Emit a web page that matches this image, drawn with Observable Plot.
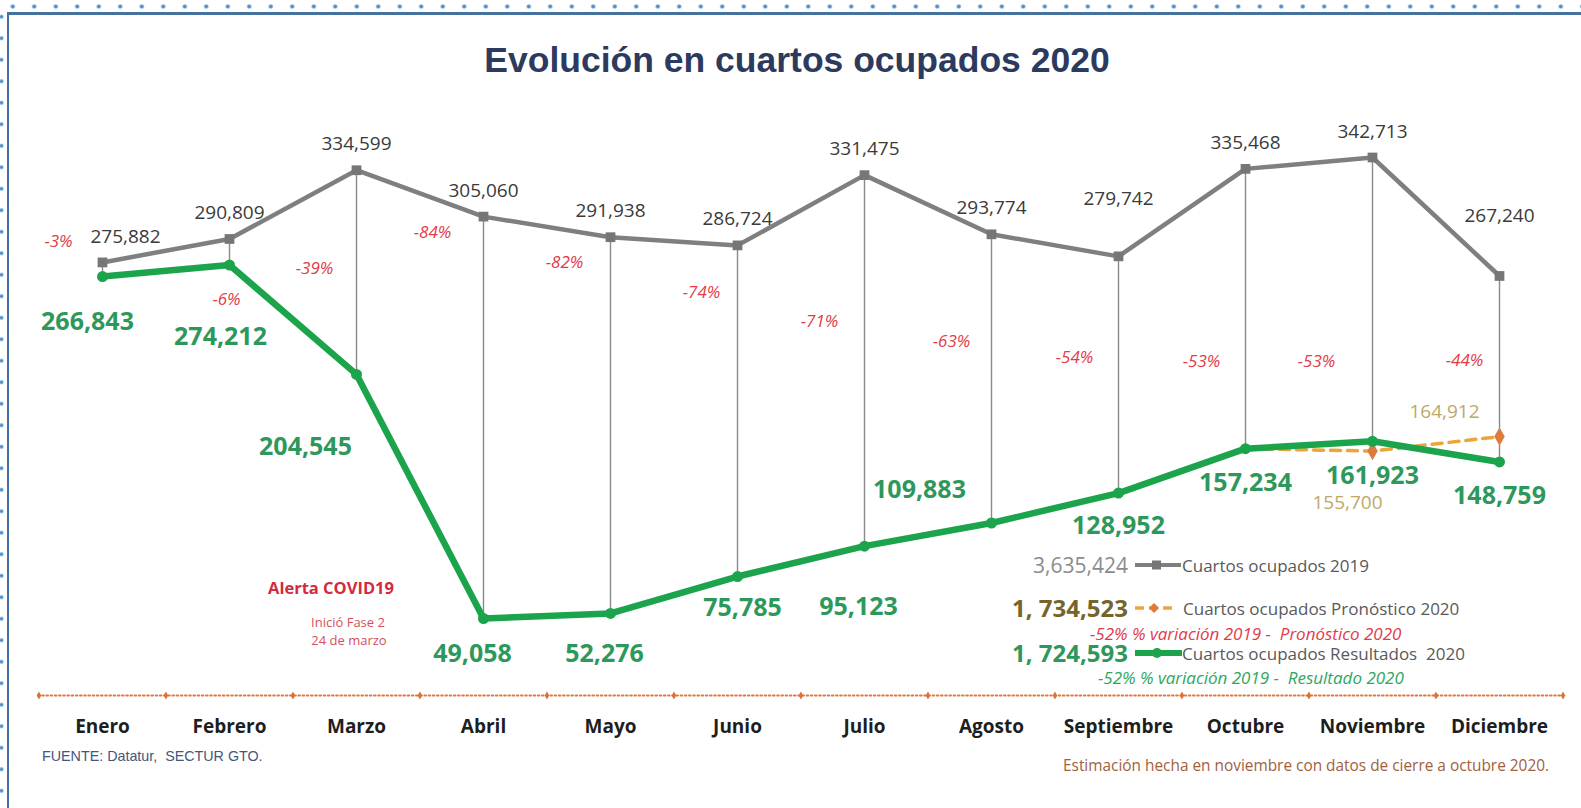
<!DOCTYPE html>
<html><head><meta charset="utf-8">
<script src="https://cdn.jsdelivr.net/npm/d3@7"></script>
<script src="https://cdn.jsdelivr.net/npm/@observablehq/plot@0.6"></script>
<style>
html,body{margin:0;padding:0;background:#fff;}
#wrap{position:relative;width:1581px;height:808px;overflow:hidden;font-family:"Open Sans",sans-serif;}
#wrap svg.chart{position:absolute;left:0;top:0;}
.abs{position:absolute;white-space:nowrap;line-height:1;transform:translateY(-50%);}
.c{transform:translate(-50%,-50%);}
.r{transform:translate(-100%,-50%);}
.dotsH{position:absolute;left:0;top:3px;width:1581px;height:7px;background-image:radial-gradient(circle,#4f8fd0 1.4px,rgba(91,155,213,0.35) 2.2px,transparent 2.8px);background-size:21.5px 7px;background-position:2px 0;}
.dotsV{position:absolute;left:-2px;top:0;width:7px;height:808px;background-image:radial-gradient(circle,#4f8fd0 1.3px,rgba(91,155,213,0.35) 2px,transparent 2.6px);background-size:7px 21.5px;background-position:0 6px;}
.lineH{position:absolute;left:7px;top:12px;width:1574px;height:2.5px;background:#44719f;}
.lineV{position:absolute;left:6.5px;top:12px;width:2.5px;height:796px;background:#44719f;}
</style></head><body><div id="wrap">
<div class="dotsH"></div><div class="dotsV"></div><div class="lineH"></div><div class="lineV"></div>
</div>
<script>
// ---- data ----
const months = ["Enero","Febrero","Marzo","Abril","Mayo","Junio","Julio","Agosto","Septiembre","Octubre","Noviembre","Diciembre"];
const ocupados2019 = [275882,290809,334599,305060,291938,286724,331475,293774,279742,335468,342713,267240];
const resultados2020 = [266843,274212,204545,49058,52276,75785,95123,109883,128952,157234,161923,148759];
const pronosticoMonths = ["Octubre","Noviembre","Diciembre"];
const pronostico2020 = [157234,155700,164912];
const variacionLegend = ["-52%","-52%"];

// ---- derived tables ----
const rows = months.map((m,i)=>({month:m, v2019:ocupados2019[i], v2020:resultados2020[i], pct:resultados2020[i]/ocupados2019[i]-1}));
const fRows = pronosticoMonths.map((m,i)=>({month:m, v:pronostico2020[i]}));
const total2019 = d3.sum(ocupados2019);
const total2020 = d3.sum(resultados2020);
const totalPron = d3.sum(resultados2020.slice(0, months.indexOf(pronosticoMonths[0])+1)) + d3.sum(pronostico2020.slice(1));
const fmt = d3.format(",");
const fmtM = v => fmt(v).replace(",", ", ");
const fmtPct = p => Math.round(p*100) + "%";

// ---- layout (label offsets in px) ----
const off2019 = {Enero:[23,-26], Septiembre:[0,-57], Diciembre:[0,-60]};
const off2020 = {Enero:[-15,45], Febrero:[-9,72], Marzo:[-51,73], Abril:[-11,36], Mayo:[-6,41], Junio:[5,31], Julio:[-6,61], Agosto:[-72,-33], Septiembre:[0,33], Octubre:[0,34], Noviembre:[0,35], Diciembre:[0,34]};
const offPct = {Enero:[-44,-21], Febrero:[-3,61], Marzo:[-42,98], Abril:[-51,16], Mayo:[-46,25], Junio:[-36,47], Julio:[-45,146], Agosto:[-40,107], Septiembre:[-44,101], Octubre:[-44,193], Noviembre:[-56,204], Diciembre:[-35,85]};
const offPron = {Noviembre:[-25,52], Diciembre:[-55,-25]};

const W = 1581, H = 808, mL = 38, mR = 18;
const step = (W - mL - mR) / months.length;

const C2019 = "#7f7f7f", CGREEN = "#1ca44c", CGLAB = "#2e985c", CORANGE = "#eaa53c", CDIAM = "#e07a3a", CPCT = "#e23b48";

const marks = [
  Plot.ruleY([0], {stroke:"#e0783a", strokeWidth:2, strokeDasharray:"1.6,2.6", strokeLinecap:"round"}),
  Plot.dot(months, {x:d=>d, y:()=>0, dx:-step/2, symbol:"diamond", r:2.4, fill:"#d9733a"}),
  Plot.dot(months.slice(-1), {x:d=>d, y:()=>0, dx:step/2, symbol:"diamond", r:2.4, fill:"#d9733a"}),
  Plot.axisX({tickSize:0, tickPadding:24, fontSize:19, fontWeight:"bold", fill:"#1e1e1e", label:null}),
  Plot.ruleX(rows, {x:"month", y1:"v2019", y2:"v2020", stroke:"#8a8a8a", strokeWidth:1.4}),
  Plot.line(rows, {x:"month", y:"v2019", stroke:C2019, strokeWidth:4.5}),
  Plot.dot(rows, {x:"month", y:"v2019", symbol:"square", r:5.5, fill:"#767676"}),
  Plot.line(fRows, {x:"month", y:"v", stroke:CORANGE, strokeWidth:3.5, strokeDasharray:"10,7"}),
  Plot.line(rows, {x:"month", y:"v2020", stroke:CGREEN, strokeWidth:6.5, strokeLinejoin:"round"}),
  Plot.dot(fRows.slice(1), {x:"month", y:"v", symbol:"diamond", r:5.5, fill:CDIAM}),
  Plot.dot(rows, {x:"month", y:"v2020", r:5.5, fill:CGREEN}),
];
for (const d of rows) {
  const a = off2019[d.month] || [0,-26];
  marks.push(Plot.text([d], {x:"month", y:"v2019", text:r=>fmt(r.v2019), dx:a[0], dy:a[1], fontSize:19, fill:"#3a3a3a"}));
  const b = off2020[d.month];
  marks.push(Plot.text([d], {x:"month", y:"v2020", text:r=>fmt(r.v2020), dx:b[0], dy:b[1], fontSize:25, fontWeight:"bold", fill:CGLAB}));
  const c = offPct[d.month];
  marks.push(Plot.text([d], {x:"month", y:"v2019", text:r=>fmtPct(r.pct), dx:c[0], dy:c[1], fontSize:17, fontStyle:"italic", fill:CPCT}));
}
for (const d of fRows.slice(1)) {
  const o = offPron[d.month];
  marks.push(Plot.text([d], {x:"month", y:"v", text:r=>fmt(r.v), dx:o[0], dy:o[1], fontSize:19, fill:"#bda866"}));
}

const chart = Plot.plot({
  width:W, height:H,
  marginLeft:mL, marginRight:mR, marginTop:0, marginBottom:113,
  style:{fontFamily:"Open Sans, sans-serif", background:"transparent", overflow:"visible"},
  x:{type:"point", domain:months, padding:0.5, axis:null},
  y:{domain:[0, d3.max(ocupados2019)], range:[695,157], axis:null},
  marks
});
chart.classList.add("chart");
const wrap = document.getElementById("wrap");
wrap.appendChild(chart);

function add(html, cls, left, top, style) {
  const el = document.createElement("div");
  el.className = "abs " + (cls||"");
  el.style.left = left + "px"; el.style.top = top + "px";
  Object.assign(el.style, style||{});
  el.innerHTML = html;
  wrap.appendChild(el);
  return el;
}
// title
add("Evolución en cuartos ocupados 2020", "c", 797, 61, {fontFamily:"Liberation Sans, Arial, sans-serif", fontWeight:"bold", fontSize:"35.5px", color:"#2b3a5e"});
// annotation
add("Alerta COVID19", "c", 331, 588, {fontWeight:"bold", fontSize:"16.5px", color:"#d42a3f"});
add("Inició Fase 2", "c", 348, 622, {fontSize:"13px", color:"#d4505c"});
add("24 de marzo", "c", 349, 640, {fontSize:"13px", color:"#d4505c"});
// source notes
add("FUENTE: Datatur,&nbsp; SECTUR GTO.", "", 42, 756, {fontFamily:"Liberation Sans, Arial, sans-serif", fontSize:"14.3px", color:"#45567c"});
add("Estimación hecha en noviembre con datos de cierre a octubre 2020.", "", 1063, 766, {fontSize:"15.4px", color:"#a0603e"});
// legend
add(fmt(total2019), "r", 1128, 565, {fontSize:"21px", color:"#8c8c8c"});
add(fmtM(totalPron), "r", 1128, 608, {fontSize:"24px", fontWeight:"bold", color:"#75652a"});
add(fmtM(total2020), "r", 1128, 653, {fontSize:"24px", fontWeight:"bold", color:CGLAB});
add("Cuartos ocupados 2019", "", 1182, 565, {fontSize:"17px", color:"#595959"});
add("Cuartos ocupados Pronóstico 2020", "", 1183, 608, {fontSize:"17px", color:"#595959"});
add("Cuartos ocupados Resultados&nbsp; 2020", "", 1182, 653, {fontSize:"17px", color:"#595959"});
add(variacionLegend[0] + " % variación 2019 -&nbsp; Pronóstico 2020", "", 1090, 633, {fontSize:"17px", fontStyle:"italic", color:CPCT});
add(variacionLegend[1] + " % variación 2019 -&nbsp; Resultado 2020", "", 1098, 677, {fontSize:"17px", fontStyle:"italic", color:"#2fa760"});
// legend swatches
const sw = (top, inner) => add(`<svg width="50" height="14" style="display:block">${inner}</svg>`, "", 1133, top);
sw(565, `<line x1="2" y1="7" x2="48" y2="7" stroke="${C2019}" stroke-width="4"/><rect x="19" y="2.5" width="9" height="9" fill="#767676"/>`);
sw(608, `<line x1="2" y1="7" x2="40" y2="7" stroke="${CORANGE}" stroke-width="3.5" stroke-dasharray="9,5"/><path d="M21,2 L26,7 L21,12 L16,7Z" fill="${CDIAM}"/>`);
sw(653, `<line x1="2" y1="7" x2="49" y2="7" stroke="${CGREEN}" stroke-width="6"/><circle cx="24" cy="7" r="5" fill="${CGREEN}"/>`);
</script>
</body></html>
